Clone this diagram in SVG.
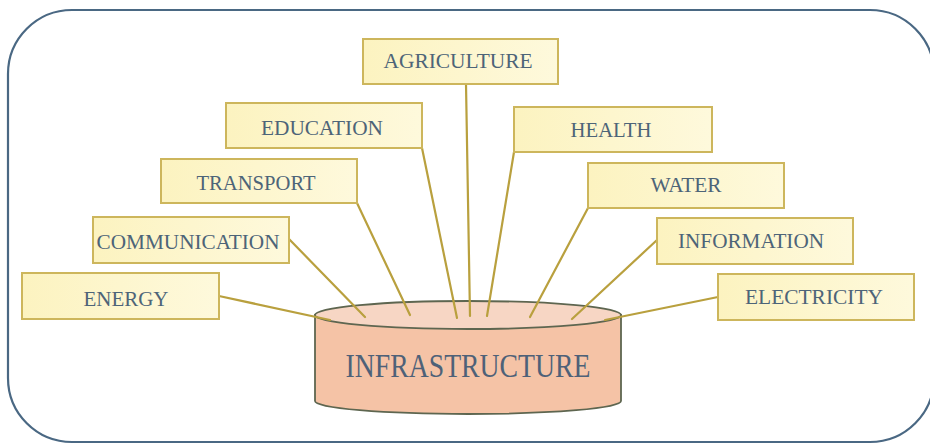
<svg xmlns="http://www.w3.org/2000/svg" width="930" height="444" viewBox="0 0 930 444">
<defs>
<linearGradient id="boxg" x1="0" y1="0" x2="1" y2="0">
<stop offset="0" stop-color="#fcf3c0"/>
<stop offset="1" stop-color="#fef9dc"/>
</linearGradient>
<style>
.box{fill:url(#boxg);stroke:#cdb65c;stroke-width:2}
.lbl{font-family:"Liberation Serif","Times New Roman",serif;font-size:22px;fill:#4d6478;text-anchor:middle}
.con{stroke:#b9a03e;stroke-width:2.2;fill:none;stroke-linecap:round}
</style>
</defs>
<rect x="0" y="0" width="930" height="444" fill="#ffffff"/>
<rect id="frame" x="8" y="10" width="926" height="432" rx="64" ry="64" fill="#ffffff" stroke="#4a6883" stroke-width="2.2"/>
<g id="infrastructure">
<path d="M315,315 L315,401 A153,13 0 0 0 621,401 L621,315 Z" fill="#f5c3a6" stroke="#5e6650" stroke-width="1.8"/>
<ellipse cx="468" cy="315" rx="153" ry="14" fill="#f7d6c4" stroke="#5e6650" stroke-width="1.8"/>
<text x="468" y="377" font-family="'Liberation Serif','Times New Roman',serif" font-size="33" fill="#4e6178" text-anchor="middle" textLength="245" lengthAdjust="spacingAndGlyphs">INFRASTRUCTURE</text>
</g>
<g id="connectors">
<line class="con" x1="219" y1="296" x2="330" y2="320"/>
<line class="con" x1="289" y1="239" x2="365" y2="317"/>
<line class="con" x1="357" y1="203" x2="410" y2="315"/>
<line class="con" x1="422" y1="148" x2="457" y2="318"/>
<line class="con" x1="466" y1="84" x2="470" y2="316"/>
<line class="con" x1="514" y1="152" x2="487" y2="316"/>
<line class="con" x1="588" y1="208" x2="530" y2="317"/>
<line class="con" x1="657" y1="240" x2="572" y2="319"/>
<line class="con" x1="718" y1="297" x2="605" y2="320"/>
</g>
<g id="agriculture"><rect class="box" x="363" y="39" width="195" height="45"/><text class="lbl" x="458" y="68" textLength="149" lengthAdjust="spacingAndGlyphs">AGRICULTURE</text></g>
<g id="education"><rect class="box" x="226" y="103" width="196" height="45"/><text class="lbl" x="322" y="135" textLength="122" lengthAdjust="spacingAndGlyphs">EDUCATION</text></g>
<g id="transport"><rect class="box" x="161" y="159" width="196" height="44"/><text class="lbl" x="256" y="190" textLength="119" lengthAdjust="spacingAndGlyphs">TRANSPORT</text></g>
<g id="communication"><rect class="box" x="93" y="217" width="196" height="46"/><text class="lbl" x="188" y="249" textLength="183" lengthAdjust="spacingAndGlyphs">COMMUNICATION</text></g>
<g id="energy"><rect class="box" x="22" y="273" width="197" height="46"/><text class="lbl" x="126" y="306" textLength="85" lengthAdjust="spacingAndGlyphs">ENERGY</text></g>
<g id="health"><rect class="box" x="514" y="107" width="198" height="45"/><text class="lbl" x="611" y="137" textLength="81" lengthAdjust="spacingAndGlyphs">HEALTH</text></g>
<g id="water"><rect class="box" x="588" y="163" width="196" height="45"/><text class="lbl" x="686" y="192" textLength="71" lengthAdjust="spacingAndGlyphs">WATER</text></g>
<g id="information"><rect class="box" x="657" y="218" width="196" height="46"/><text class="lbl" x="751" y="248" textLength="146" lengthAdjust="spacingAndGlyphs">INFORMATION</text></g>
<g id="electricity"><rect class="box" x="718" y="274" width="196" height="46"/><text class="lbl" x="814" y="304" textLength="138" lengthAdjust="spacingAndGlyphs">ELECTRICITY</text></g>
</svg>
